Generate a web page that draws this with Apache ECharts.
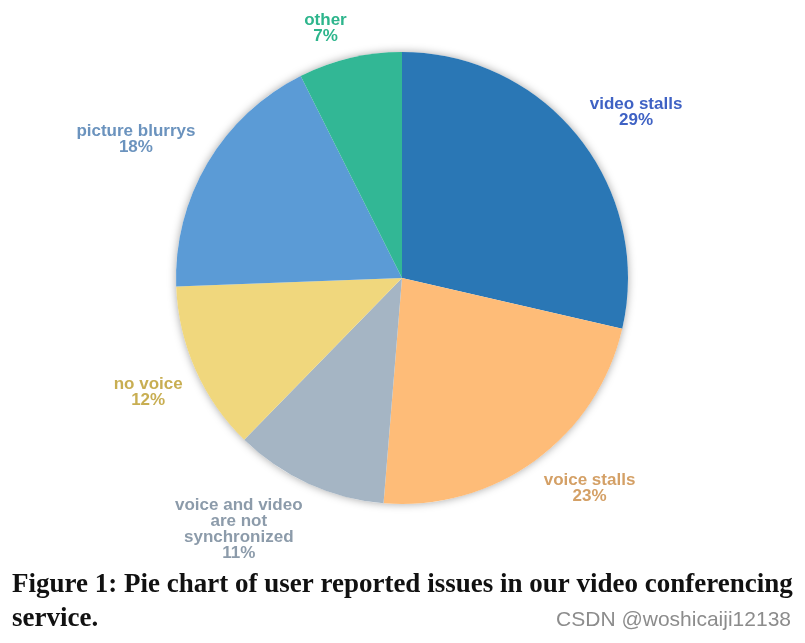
<!DOCTYPE html>
<html>
<head>
<meta charset="utf-8">
<script src="https://cdn.jsdelivr.net/npm/echarts@6/dist/echarts.min.js"></script>
<style>
html,body{margin:0;padding:0;background:#fff;}
#chart{width:805px;height:643px;}
</style>
</head>
<body>
<div id="chart"></div>
<script>
// ---- data ----
const categories = ['video stalls', 'voice stalls', 'voice and video\nare not\nsynchronized', 'no voice', 'picture blurrys', 'other'];
const values = [28.6, 22.7, 11.0, 12.1, 18.2, 7.4];
const sliceColors = ['#2A77B5', '#FEBC78', '#A5B5C4', '#F0D77D', '#5B9BD6', '#32B795'];
const labelColors = ['#3F62C4', '#D4A066', '#8C9BAA', '#C8AE52', '#6B93BE', '#2DB58C'];
const captionText = 'Figure 1: Pie chart of user reported issues in our video conferencing\nservice.';
const watermarkText = 'CSDN @woshicaiji12138';

// ---- layout ----
const CX = 402, CY = 278, R = 226, GAP = 14;
const total = values.reduce((a, b) => a + b, 0);
const cumStart = [];
values.reduce((acc, v, i) => { cumStart[i] = acc; return acc + v; }, 0);

const chart = echarts.init(document.getElementById('chart'), null, {renderer: 'canvas'});
chart.setOption({
  animation: false,
  backgroundColor: '#ffffff',
  series: [
    {
      type: 'pie',
      silent: true,
      center: [CX, CY],
      radius: [0, R],
      z: 1,
      label: {show: false},
      labelLine: {show: false},
      itemStyle: {color: '#ffffff', shadowBlur: 8, shadowColor: 'rgba(0,0,0,0.35)'},
      data: [{value: 1, name: ''}]
    },
    {
      type: 'pie',
      center: [CX, CY],
      radius: [0, R],
      startAngle: 90,
      clockwise: true,
      z: 2,
      label: {
        show: true,
        position: 'outside',
        formatter: p => p.name + '\n' + Math.round(p.percent) + '%',
        fontFamily: '"Liberation Sans", Arial, sans-serif',
        fontWeight: 'bold',
        fontSize: 17,
        lineHeight: 16,
        align: 'center'
      },
      labelLine: {show: false},
      labelLayout: function (params) {
        const i = params.dataIndex;
        const a = (cumStart[i] + values[i] / 2) / total * Math.PI * 2;
        const ux = Math.sin(a), uy = -Math.cos(a);
        const ax = CX + ux * (R + GAP), ay = CY + uy * (R + GAP);
        const w = params.labelRect.width, h = params.labelRect.height;
        return {
          x: ax + (ux >= 0 ? 1 : -1) * w / 2,
          y: ay + (uy >= 0 ? 1 : -1) * h / 2,
          align: 'center',
          verticalAlign: 'middle'
        };
      },
      data: categories.map((c, i) => ({
        name: c,
        value: values[i],
        itemStyle: {color: sliceColors[i]},
        label: {color: labelColors[i]}
      }))
    }
  ],
  graphic: [
    {
      type: 'text',
      left: 12,
      top: 568,
      style: {
        text: captionText,
        font: 'bold 27px "Liberation Serif", "DejaVu Serif", serif',
        lineHeight: 34,
        fill: '#111111'
      }
    },
    {
      type: 'text',
      right: 14,
      top: 610,
      style: {
        text: watermarkText,
        font: '21px "Liberation Sans Narrow", "Liberation Sans", sans-serif',
        fill: '#8c8c8c'
      }
    }
  ]
});
</script>
</body>
</html>
